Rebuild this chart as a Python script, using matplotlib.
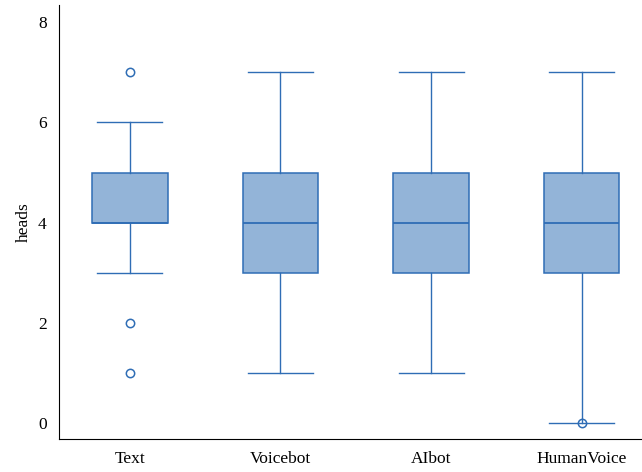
import matplotlib
matplotlib.use("Agg")
import matplotlib.pyplot as plt

plt.rcParams['font.family'] = ['Liberation Serif', 'DejaVu Serif']

categories = ['Text', 'Voicebot', 'AIbot', 'HumanVoice']
q1 = [4, 3, 3, 3]
med = [4, 4, 4, 4]
q3 = [5, 5, 5, 5]
whislo = [3, 1, 1, 0]
whishi = [6, 7, 7, 7]
fliers = [[7, 2, 1], [], [], [0]]

stats = []
for i in range(len(categories)):
    stats.append(dict(label=categories[i], q1=q1[i], med=med[i], q3=q3[i],
                      whislo=whislo[i], whishi=whishi[i], fliers=fliers[i]))

edge = '#2f6db5'
fill = '#93b4d8'

fig = plt.figure(figsize=(6.42, 4.72), dpi=100)
ax = fig.add_axes([0.092, 0.07, 0.908, 0.92])

ax.bxp(stats, positions=range(len(categories)), widths=0.5, capwidths=0.43,
       patch_artist=True,
       boxprops=dict(facecolor=fill, edgecolor=edge, linewidth=1.1),
       medianprops=dict(color=edge, linewidth=1.3),
       whiskerprops=dict(color=edge, linewidth=1.0),
       capprops=dict(color=edge, linewidth=1.0),
       flierprops=dict(marker='o', markersize=6, markerfacecolor='none',
                       markeredgecolor=edge, markeredgewidth=1.1))

ax.set_xlim(-0.47, 3.4)
ax.set_ylim(-0.32, 8.35)
ax.set_yticks([0, 2, 4, 6, 8])
ax.set_ylabel('heads', fontsize=12.5)
ax.tick_params(length=0, labelsize=12.5, pad=9)
ax.spines['top'].set_visible(False)
ax.spines['right'].set_visible(False)

fig.savefig('out.png', dpi=100)
